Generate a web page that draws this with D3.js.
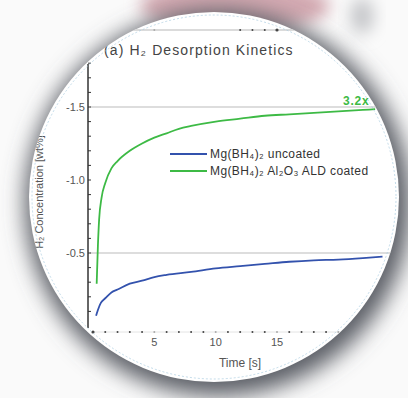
<!DOCTYPE html>
<html>
<head>
<meta charset="utf-8">
<script src="https://cdn.jsdelivr.net/npm/d3@7"></script>
<style>
  html, body { margin: 0; padding: 0; background: #fff; }
  svg { display: block; font-family: "Liberation Sans", Arial, sans-serif; }
</style>
</head>
<body>
<div id="chart"></div>
<script>
// --- Data ---
const uncoatedTime = [0.25, 0.4, 0.65, 1, 1.5, 2, 3, 4, 5, 6, 8, 10, 12, 14, 16, 18, 20, 22, 23.6];
const uncoatedH2   = [0.07, 0.11, 0.16, 0.19, 0.23, 0.25, 0.29, 0.31, 0.335, 0.35, 0.37, 0.395, 0.41, 0.425, 0.44, 0.45, 0.455, 0.465, 0.475];
const coatedTime = [0.3, 0.4, 0.5, 0.7, 1, 1.5, 2, 3, 4, 5, 6, 7, 8, 10, 12, 14, 16, 18, 20, 22, 23];
const coatedH2   = [0.29, 0.55, 0.73, 0.88, 0.98, 1.08, 1.13, 1.2, 1.25, 1.29, 1.32, 1.35, 1.37, 1.4, 1.42, 1.44, 1.45, 1.46, 1.47, 1.48, 1.485];
const xTickLabels = ['5', '10', '15'];
const xTickValues = [5, 10, 15];
const yTickValues = [0.5, 1.0, 1.5];
const yTickLabels = ['-0.5', '-1.0', '-1.5'];
const gridValues = [0.5, 1.5];
const seriesNames = ['Mg(BH\u2084)\u2082 uncoated', 'Mg(BH\u2084)\u2082 Al\u2082O\u2083 ALD coated'];
const seriesColors = ['#3352ad', '#3dba45'];

// --- Layout ---
const W = 408, H = 398;
const disc = { cx: 214, cy: 197, r: 185 };

const svg = d3.select('#chart').append('svg')
    .attr('width', W)
    .attr('height', H);

const defs = svg.append('defs');
defs.append('filter').attr('id', 'blur12')
    .attr('x', '-50%').attr('y', '-50%').attr('width', '200%').attr('height', '200%')
    .append('feGaussianBlur').attr('stdDeviation', 11);
defs.append('filter').attr('id', 'blur8')
    .attr('x', '-50%').attr('y', '-50%').attr('width', '200%').attr('height', '200%')
    .append('feGaussianBlur').attr('stdDeviation', 8);
defs.append('clipPath').attr('id', 'discClip')
    .append('circle').attr('cx', disc.cx).attr('cy', disc.cy).attr('r', disc.r);

// background blobs
svg.append('rect').attr('width', W).attr('height', H).attr('fill', '#fafafa');
svg.append('ellipse').attr('cx', 235).attr('cy', 6).attr('rx', 95).attr('ry', 26)
    .attr('fill', '#d3a9b1').attr('filter', 'url(#blur8)');
svg.append('ellipse').attr('cx', 362).attr('cy', 16).attr('rx', 12).attr('ry', 18)
    .attr('fill', '#c6c7ca').attr('filter', 'url(#blur8)');

// drop shadow of the disc
svg.append('circle').attr('cx', disc.cx + 4).attr('cy', disc.cy + 6).attr('r', disc.r + 8)
    .attr('fill', '#5b5e66').attr('filter', 'url(#blur12)');

// the white disc
svg.append('circle').attr('cx', disc.cx).attr('cy', disc.cy).attr('r', disc.r)
    .attr('fill', '#ffffff');

const g = svg.append('g').attr('clip-path', 'url(#discClip)');

// --- Scales ---
const x = d3.scaleLinear().domain([0, 15]).range([93, 277]);
const y = d3.scaleLinear().domain([0.5, 1.5]).range([253, 107]);

// remnant axis of a chart above
const topAxis = g.append('g').attr('transform', 'translate(0,30)');
topAxis.append('line').attr('x1', x(-4)).attr('x2', x(16.5))
    .attr('stroke', '#cfcfcf').attr('stroke-width', 1.5);
topAxis.selectAll('circle').data([5, 12, 13, 14, 15]).join('circle')
    .attr('cx', d => x(d)).attr('r', (d, i) => i === 4 ? 1.6 : 1)
    .attr('fill', (d, i) => i === 0 ? '#aaa' : '#444');

// gridlines
g.selectAll('.grid').data(gridValues).join('line')
    .attr('class', 'grid')
    .attr('x1', 90).attr('x2', 400)
    .attr('y1', d => y(d)).attr('y2', d => y(d))
    .attr('stroke', '#d2d2d2').attr('stroke-width', 1.5);

// y axis
const yAxisG = g.append('g').attr('transform', 'translate(88,0)');
yAxisG.append('line').attr('y1', 64).attr('y2', 328)
    .attr('stroke', '#333').attr('stroke-width', 1.5);
yAxisG.selectAll('.minor').data(d3.range(0.1, 1.85, 0.1)).join('line')
    .attr('class', 'minor')
    .attr('x1', 0).attr('x2', 3)
    .attr('y1', d => y(d)).attr('y2', d => y(d))
    .attr('stroke', '#333');
yAxisG.selectAll('.ylab').data(yTickValues).join('text')
    .attr('class', 'ylab')
    .attr('x', -3).attr('y', d => y(d)).attr('dy', '0.35em')
    .attr('text-anchor', 'end')
    .attr('font-size', 11).attr('fill', '#555')
    .text((d, i) => yTickLabels[i]);

// x axis (dotted)
const xAxisG = g.append('g').attr('transform', 'translate(0,332)');
xAxisG.append('line').attr('x1', x(0)).attr('x2', x(22))
    .attr('stroke', '#e4e4e4').attr('stroke-width', 1);
xAxisG.selectAll('.xdot').data(d3.range(0, 23)).join('circle')
    .attr('class', 'xdot')
    .attr('cx', d => x(d)).attr('r', d => d === 0 ? 1.6 : 1)
    .attr('fill', d => d % 5 === 0 && d > 0 ? '#aaa' : '#444');
xAxisG.selectAll('.xlab').data(xTickValues).join('text')
    .attr('class', 'xlab')
    .attr('x', d => x(d)).attr('y', 14)
    .attr('text-anchor', 'middle')
    .attr('font-size', 11).attr('fill', '#555')
    .text((d, i) => xTickLabels[i]);

// axis titles
g.append('text')
    .attr('x', 240).attr('y', 367)
    .attr('text-anchor', 'middle')
    .attr('font-size', 12).attr('fill', '#555')
    .text('Time [s]');
g.append('text')
    .attr('transform', 'translate(43,192) rotate(-90)')
    .attr('text-anchor', 'middle')
    .attr('font-size', 11).attr('fill', '#555')
    .text('H\u2082 Concentration [wt%]');

// title
g.append('text')
    .attr('x', 104).attr('y', 55)
    .attr('font-size', 14).attr('fill', '#444')
    .attr('letter-spacing', 1.1)
    .text('(a) H\u2082 Desorption Kinetics');

// --- Curves ---
const line = d3.line()
    .x(d => x(d[0]))
    .y(d => y(d[1]))
    .curve(d3.curveMonotoneX);

const series = [
    d3.zip(uncoatedTime, uncoatedH2),
    d3.zip(coatedTime, coatedH2)
];

g.selectAll('.curve').data(series).join('path')
    .attr('class', 'curve')
    .attr('d', line)
    .attr('fill', 'none')
    .attr('stroke', (d, i) => seriesColors[i])
    .attr('stroke-width', 1.8);

// annotation
g.append('text')
    .attr('x', 343).attr('y', 105)
    .attr('font-size', 12).attr('font-weight', 'bold')
    .attr('letter-spacing', 0.8)
    .attr('fill', seriesColors[1])
    .text('3.2x');

// --- Legend ---
const legend = g.append('g').attr('transform', 'translate(170,154)');
const items = legend.selectAll('g').data(seriesNames).join('g')
    .attr('transform', (d, i) => `translate(0,${i * 17})`);
items.append('line')
    .attr('x1', 0).attr('x2', 37)
    .attr('stroke', (d, i) => seriesColors[i]).attr('stroke-width', 1.8);
items.append('text')
    .attr('x', 40).attr('dy', '0.35em')
    .attr('font-size', 12).attr('fill', '#333')
    .attr('letter-spacing', 0.4)
    .text(d => d);

// faint dotted rim of the disc
svg.append('circle').attr('cx', disc.cx).attr('cy', disc.cy).attr('r', disc.r - 3)
    .attr('fill', 'none')
    .attr('stroke', '#a9cbe0').attr('stroke-width', 0.7)
    .attr('stroke-dasharray', '2,2');
</script>
</body>
</html>
